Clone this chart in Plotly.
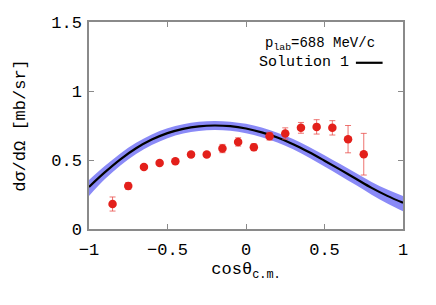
import plotly.graph_objects as go

# Experimental data
data_x = [-0.85, -0.75, -0.65, -0.55, -0.45, -0.35, -0.25, -0.15, -0.05,
          0.05, 0.15, 0.25, 0.35, 0.45, 0.55, 0.65, 0.75]
data_y = [0.181, 0.312, 0.45, 0.479, 0.491, 0.54, 0.54, 0.583, 0.631,
          0.593, 0.673, 0.692, 0.733, 0.74, 0.733, 0.651, 0.542]
data_err = [0.051, 0.025, 0.012, 0.012, 0.012, 0.012, 0.012, 0.03, 0.03,
            0.025, 0.028, 0.041, 0.039, 0.052, 0.052, 0.099, 0.151]

# Model curve (Solution 1) and its uncertainty band
curve_x = [-1.0, -0.9, -0.8, -0.7, -0.6, -0.5, -0.4, -0.3, -0.2, -0.1, 0.0,
           0.1, 0.2, 0.3, 0.4, 0.5, 0.6, 0.7, 0.8, 0.9, 1.0]
curve_y = [0.305, 0.41, 0.505, 0.585, 0.648, 0.695, 0.726, 0.744, 0.75, 0.745, 0.728,
           0.70, 0.663, 0.615, 0.558, 0.495, 0.43, 0.364, 0.298, 0.24, 0.19]
band_upper = [0.355, 0.456, 0.548, 0.625, 0.685, 0.73, 0.759, 0.777, 0.783, 0.778, 0.762,
              0.735, 0.698, 0.652, 0.596, 0.535, 0.471, 0.406, 0.341, 0.286, 0.24]
band_lower = [0.24, 0.36, 0.461, 0.543, 0.609, 0.658, 0.692, 0.711, 0.717, 0.712, 0.693,
              0.665, 0.627, 0.577, 0.518, 0.453, 0.386, 0.318, 0.249, 0.185, 0.128]

x_ticks = [-1, -0.5, 0, 0.5, 1]
x_ticklabels = ["\u22121", "\u22120.5", "0", "0.5", "1"]
y_ticks = [0, 0.5, 1, 1.5]
y_ticklabels = ["0", "0.5", "1", "1.5"]

FONT = "Liberation Mono, Courier New, monospace"
FRAME = "#8a8a8a"

fig = go.Figure()

fig.add_trace(go.Scatter(x=curve_x, y=band_upper, mode="lines",
                         line=dict(width=0, shape="spline", color="rgba(0,0,0,0)"),
                         showlegend=False, hoverinfo="skip"))
fig.add_trace(go.Scatter(x=curve_x, y=band_lower, mode="lines",
                         line=dict(width=0, shape="spline", color="rgba(0,0,0,0)"),
                         fill="tonexty", fillcolor="#8a8af7",
                         showlegend=False, hoverinfo="skip"))
fig.add_trace(go.Scatter(x=curve_x, y=curve_y, mode="lines",
                         line=dict(width=2.2, color="black", shape="spline"),
                         showlegend=False))
fig.add_trace(go.Scatter(x=data_x, y=data_y, mode="markers",
                         marker=dict(size=8.5, color="#e3201b"),
                         error_y=dict(type="data", array=data_err, visible=True,
                                      color="rgba(232,70,65,0.75)", thickness=1, width=3),
                         showlegend=False))

axis_common = dict(showline=True, linecolor=FRAME, linewidth=1.5, mirror="allticks",
                   ticks="inside", ticklen=5, tickcolor=FRAME, tickwidth=1,
                   showgrid=False, zeroline=False, automargin=False,
                   tickfont=dict(family=FONT, size=17, color="black"))

fig.update_xaxes(range=[-1, 1], tickvals=x_ticks, ticktext=x_ticklabels,
                 ticklabelstandoff=4,
                 title=dict(text="cos\u03b8<sub>c.m.</sub>", font=dict(family=FONT, size=17, color="black"),
                            standoff=0),
                 **axis_common)
fig.update_yaxes(range=[0, 1.5], tickvals=y_ticks, ticktext=y_ticklabels,
                 ticklabelstandoff=2,
                 title=dict(text="d\u03c3/d\u03a9 [mb/sr]", font=dict(family=FONT, size=17, color="black"),
                            standoff=21),
                 **axis_common)

fig.add_annotation(xref="paper", yref="paper", x=0.917, y=0.895, xanchor="right", yanchor="middle",
                   text="p<sub>lab</sub>=688 MeV/c", showarrow=False,
                   font=dict(family=FONT, size=14, color="black"))
fig.add_annotation(xref="paper", yref="paper", x=0.835, y=0.803, xanchor="right", yanchor="middle",
                   text="Solution 1", showarrow=False,
                   font=dict(family=FONT, size=15, color="black"))
fig.add_shape(type="line", xref="paper", yref="paper", x0=0.85, x1=0.935, y0=0.803, y1=0.803,
              line=dict(color="black", width=2.2))

# page body adds an 8px offset, so margins are reduced on left/top
fig.update_layout(width=436, height=305, margin=dict(l=81, r=41, t=14, b=84),
                  plot_bgcolor="white", paper_bgcolor="white",
                  font=dict(family=FONT, color="black"))

fig.write_html("out.html")
